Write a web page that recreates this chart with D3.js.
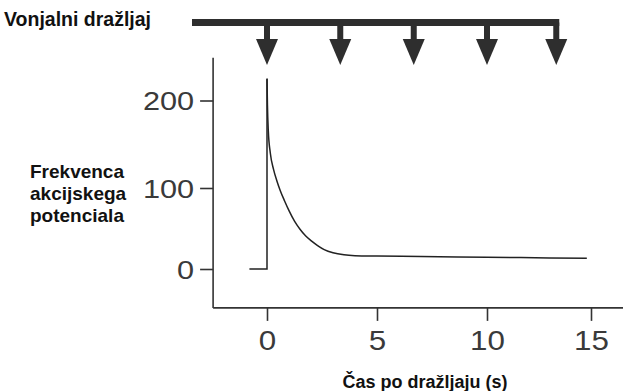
<!DOCTYPE html>
<html>
<head>
<meta charset="utf-8">
<script src="https://cdn.jsdelivr.net/npm/d3@7"></script>
<style>
  html, body { margin: 0; padding: 0; background: #fff; }
  svg { display: block; }
  .lbl { font-family: "Liberation Sans", Arial, Helvetica, sans-serif; font-weight: bold; fill: #111; }
  .tick text { font-family: "Liberation Sans", Arial, Helvetica, sans-serif; fill: #3a3a3a; }
</style>
</head>
<body>
<svg id="chart" width="623" height="391"></svg>
<script>
// Odour stimulus onsets (s)
const stimulusTimes = [0, 3.33, 6.67, 10, 13.33];

// Firing frequency before the stimulus (s, Hz)
const baselineTimes = [-0.8, 0, 0];
const baselineRates = [0, 0, 225];

// Firing frequency after the stimulus: fast adaptation, then a slow plateau
const responseTimes = [0, 0.02, 0.06, 0.15, 0.3, 0.45, 0.6, 0.8, 1.0, 1.25, 1.5, 1.75, 2.0, 2.3, 2.6, 3.0, 3.5, 4.0, 5.0, 7.0, 10.0, 13.0, 14.8];
const responseRates = [225, 195, 165, 140, 121, 108, 97, 84, 72, 59, 49, 41, 35, 29, 24, 20, 17.5, 16.5, 16, 15.5, 14.5, 13.7, 13.2];

// Axis ticks
const xTicks = [0, 5, 10, 15];
const yTicks = [0, 100, 200];

// Text
const stimulusLabel = "Vonjalni dražljaj";
const yLabelLines = ["Frekvenca", "akcijskega", "potenciala"];
const xLabel = "Čas po dražljaju (s)";

const svg = d3.select("#chart");
const ink = "#333";

// Hand-drawn axes: spacing between ticks is not perfectly uniform
const x = d3.scaleLinear().domain([0, 10, 15]).range([267, 487, 591]);
const y = d3.scaleLinear().domain([0, 100, 200]).range([269, 188, 100.5]);

const xAxisY = y(-48);     // horizontal axis line position
const yAxisX = x(-2.45);   // vertical axis line position

// Axis lines
svg.append("line")
  .attr("x1", yAxisX).attr("x2", yAxisX)
  .attr("y1", y(249)).attr("y2", xAxisY)
  .attr("stroke", ink).attr("stroke-width", 1.6);
svg.append("line")
  .attr("x1", yAxisX).attr("x2", 623)
  .attr("y1", xAxisY).attr("y2", xAxisY)
  .attr("stroke", ink).attr("stroke-width", 1.6);

// Y axis ticks and labels (digits drawn slightly wide)
const ySx = 1.18;
const yAxis = svg.append("g")
  .attr("transform", `translate(${yAxisX},0)`)
  .call(d3.axisLeft(y).tickValues(yTicks).tickSize(13).tickPadding(0).tickFormat(d3.format("d")));
yAxis.select(".domain").remove();
yAxis.selectAll(".tick line").attr("stroke", ink).attr("stroke-width", 1.6);
yAxis.selectAll(".tick text")
  .attr("x", -19 / ySx)
  .attr("dy", "0.36em")
  .attr("transform", `scale(${ySx},1)`)
  .style("font-size", "26px");

// X axis ticks and labels
const xSx = 1.12;
const xAxis = svg.append("g")
  .attr("transform", `translate(0,${xAxisY})`)
  .call(d3.axisBottom(x).tickValues(xTicks).tickSize(13).tickPadding(0).tickFormat(d3.format("d")));
xAxis.select(".domain").remove();
xAxis.selectAll(".tick line").attr("stroke", ink).attr("stroke-width", 1.6);
xAxis.selectAll(".tick text")
  .attr("y", 42)
  .attr("dy", null)
  .attr("transform", `scale(${xSx},1)`)
  .style("font-size", "28px");

// Firing-rate trace
const line = d3.line().x(d => x(d[0])).y(d => y(d[1]));
svg.append("path")
  .datum(baselineTimes.map((t, i) => [t, baselineRates[i]]))
  .attr("d", line.curve(d3.curveLinear))
  .attr("fill", "none").attr("stroke", "#222").attr("stroke-width", 1.5);
svg.append("path")
  .datum(responseTimes.map((t, i) => [t, responseRates[i]]))
  .attr("d", d3.line().x(d => x(d[0])).y(d => y(d[1])).curve(d3.curveMonotoneX))
  .attr("fill", "none").attr("stroke", "#222").attr("stroke-width", 1.5);

// Stimulus bar with downward arrows
const barY = 22.5;
const barColor = "#2e2e2e";
const last = x(stimulusTimes[stimulusTimes.length - 1]);
svg.append("rect")
  .attr("x", 192).attr("y", barY - 3.5)
  .attr("width", last + 3 - 192).attr("height", 7)
  .attr("fill", barColor);
const arrows = svg.append("g").selectAll("g").data(stimulusTimes).join("g")
  .attr("transform", d => `translate(${x(d)},0)`);
arrows.append("rect")
  .attr("x", -3).attr("y", barY).attr("width", 6).attr("height", 18)
  .attr("fill", barColor);
arrows.append("path")
  .attr("d", "M-11,39 L11,39 L0,65 Z")
  .attr("fill", barColor);

// Text labels
svg.append("text").attr("class", "lbl")
  .attr("x", 4).attr("y", 26)
  .style("font-size", "19.5px")
  .text(stimulusLabel);

svg.append("text").attr("class", "lbl")
  .attr("x", 30).attr("y", 178)
  .style("font-size", "19px")
  .selectAll("tspan").data(yLabelLines).join("tspan")
  .attr("x", 30).attr("dy", (d, i) => i === 0 ? 0 : 22)
  .text(d => d);

svg.append("text").attr("class", "lbl")
  .attr("x", 425).attr("y", 388)
  .attr("text-anchor", "middle")
  .style("font-size", "18px")
  .text(xLabel);
</script>
</body>
</html>
